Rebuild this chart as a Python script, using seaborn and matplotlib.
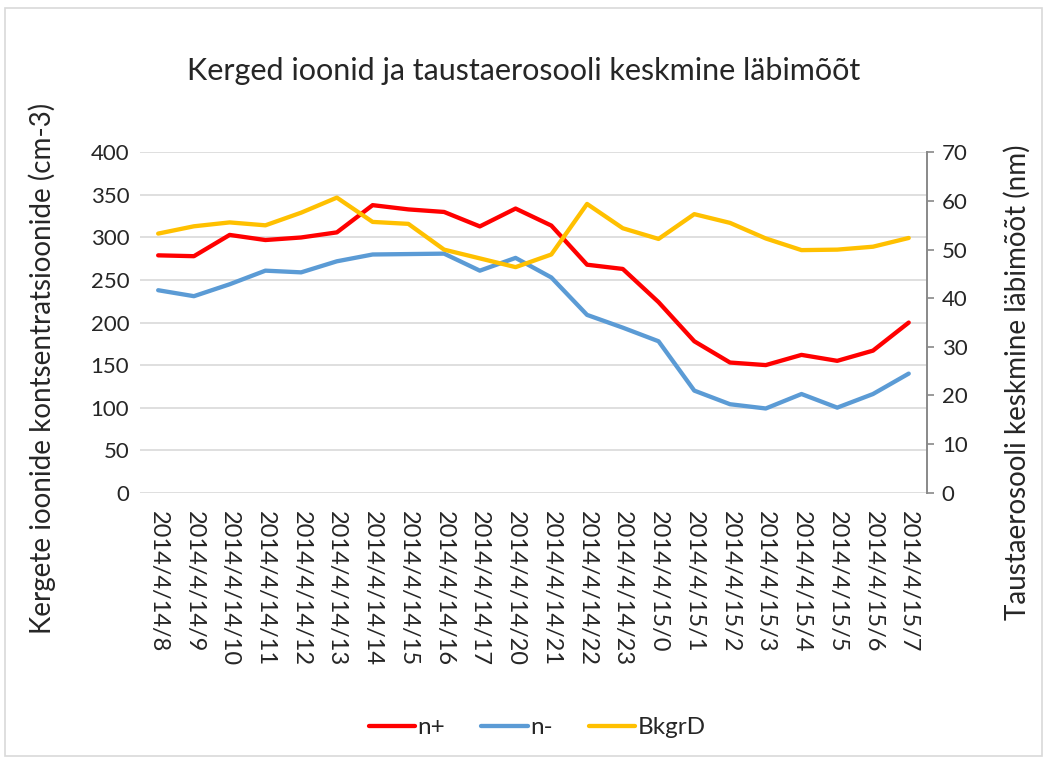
import matplotlib
matplotlib.use("Agg")
import matplotlib.pyplot as plt
import seaborn as sns
import pandas as pd
import numpy as np
from matplotlib.patches import Rectangle

categories = ["2014/4/14/8", "2014/4/14/9", "2014/4/14/10", "2014/4/14/11", "2014/4/14/12",
              "2014/4/14/13", "2014/4/14/14", "2014/4/14/15", "2014/4/14/16", "2014/4/14/17",
              "2014/4/14/20", "2014/4/14/21", "2014/4/14/22", "2014/4/14/23", "2014/4/15/0",
              "2014/4/15/1", "2014/4/15/2", "2014/4/15/3", "2014/4/15/4", "2014/4/15/5",
              "2014/4/15/6", "2014/4/15/7"]
n_plus = [279, 278, 303, 297, 300, 306, 338, 333, 330, 313, 334, 314,
          268, 263, 224, 178, 153, 150, 162, 155, 167, 200]
n_minus = [238, 231, 245, 261, 259, 272, 280, 280.5, 281, 261, 276, 253,
           209, 194, 178, 120, 104, 99, 116, 100, 116, 140]
bkgrd = [53.3, 54.8, 55.6, 55.0, 57.6, 60.7, 55.7, 55.3, 50.0, 48.2, 46.4, 49.0,
         59.4, 54.4, 52.2, 57.3, 55.5, 52.3, 49.9, 50.0, 50.6, 52.4]

sns.set_theme(style="white")
plt.rcParams["font.family"] = ["Lato", "DejaVu Sans"]

fig = plt.figure(figsize=(10.47, 7.62), dpi=100)
ax = fig.add_axes([0.134, 0.3534, 0.751, 0.4466])
ax2 = ax.twinx()

idx = list(range(len(categories)))
df = pd.DataFrame({"x": idx, "n+": n_plus, "n-": n_minus, "BkgrD": bkgrd})

c_red, c_blue, c_yel = "#FF0000", "#5B9BD5", "#FFC000"

ax.set_ylim(0, 400)
ax.set_yticks(np.arange(0, 401, 50))
ax.grid(axis="y", color="#D9D9D9", linewidth=1.2)
ax.set_axisbelow(True)

sns.lineplot(data=df, x="x", y="n+", ax=ax, color=c_red, linewidth=3.1, label="n+", legend=False)
sns.lineplot(data=df, x="x", y="n-", ax=ax, color=c_blue, linewidth=3.1, label="n-", legend=False)
sns.lineplot(data=df, x="x", y="BkgrD", ax=ax2, color=c_yel, linewidth=3.1, label="BkgrD", legend=False)
for l in ax.lines + ax2.lines:
    l.set_solid_capstyle("round")
    l.set_solid_joinstyle("round")

ax.set_xlim(-0.5, len(categories) - 0.5)
ax.set_xticks(idx)
ax.set_xticklabels(categories, rotation=-90, fontsize=17, va="top", ha="center")
ax.tick_params(axis="x", length=0, pad=13)
ax.tick_params(axis="y", length=0, labelsize=16, pad=8)
ax.set_xlabel("")
ax.set_ylabel("")

ax2.set_ylim(0, 70)
ax2.set_yticks(np.arange(0, 71, 10))
ax2.tick_params(axis="y", length=5, width=1.2, color="#898989", labelsize=16, pad=6, direction="out")
ax2.set_ylabel("")
ax2.grid(False)

for a in (ax, ax2):
    for sp in ["top", "left", "bottom", "right"]:
        a.spines[sp].set_visible(False)
ax2.spines["right"].set_visible(True)
ax2.spines["right"].set_color("#898989")
ax2.spines["right"].set_linewidth(1.4)

fig.text(0.5, 0.907, "Kerged ioonid ja taustaerosooli keskmine läbimõõt", ha="center", va="center", fontsize=22)
fig.text(0.040, 0.517, "Kergete ioonide kontsentratsioonide (cm-3)", rotation=90, ha="center", va="center", fontsize=20)
fig.text(0.972, 0.499, "Taustaerosooli keskmine läbimõõt (nm)", rotation=90, ha="center", va="center", fontsize=20)

handles = [ax.lines[0], ax.lines[1], ax2.lines[0]]
fig.legend(handles, ["n+", "n-", "BkgrD"], loc="center", bbox_to_anchor=(0.513, 0.045), ncol=3,
           frameon=False, fontsize=17.5, handlelength=1.9, handletextpad=0.1, columnspacing=1.5)

fig.patches.append(Rectangle((0.005, 0.008), 0.99, 0.982, transform=fig.transFigure,
                             fill=False, edgecolor="#D9D9D9", linewidth=1.2))

fig.savefig("out.png", dpi=100)
